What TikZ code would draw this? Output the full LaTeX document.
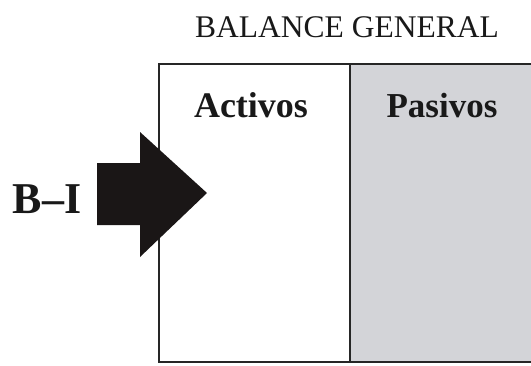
\documentclass[tikz,border=0pt]{standalone}
\usepackage{fontspec}
\setmainfont{Liberation Serif}
\definecolor{panelgrey}{HTML}{D3D4D8}
\definecolor{arrowblack}{HTML}{1A1616}
\tikzset{
  frameline/.style={draw=black!85, line width=2.2pt},
  label/.style={anchor=base, inner sep=0pt, text=black!90},
}
\begin{document}
\begin{tikzpicture}[x=1pt,y=-1pt]
\useasboundingbox (0,0) rectangle (531,365);
% panels
\fill[white] (159,64) rectangle (350,362);
\fill[panelgrey] (350,64) rectangle (540,362);
\draw[frameline] (540,64) -- (159,64) -- (159,362) -- (540,362);
\draw[frameline] (350,64) -- (350,362);
% arrow
\fill[arrowblack] (97,163) -- (140,163) -- (140,132) -- (207,193) -- (140,257) -- (140,225) -- (97,225) -- cycle;
% texts
\node[label, font=\fontsize{31.5}{31.5}\selectfont] (title) at (347,37) {BALANCE GENERAL};
\node[label, font=\bfseries\fontsize{36}{36}\selectfont] (act) at (251,117) {Activos};
\node[label, font=\bfseries\fontsize{35}{35}\selectfont] (pas) at (442,117) {Pasivos};
\node[label, font=\bfseries\fontsize{44}{44}\selectfont] (bi) at (47,213) {B–I};
\end{tikzpicture}
\end{document}
